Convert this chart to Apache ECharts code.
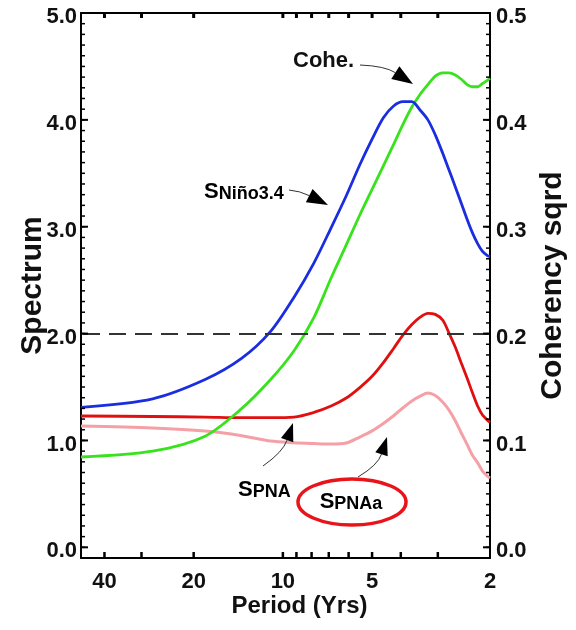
<!DOCTYPE html>
<html><head><meta charset="utf-8">
<script src="https://cdn.jsdelivr.net/npm/echarts@6.0.0/dist/echarts.min.js"></script>
<style>html,body{margin:0;padding:0;background:#fff}#main{width:576px;height:630px}</style>
</head><body><div id="main"></div>
<script>
// Period (years) sample points
const periods = [48, 27.5, 18.3, 13.75, 11, 9.17, 7.86, 6.875, 6.11, 5.5, 5, 4.58, 4.23, 3.93, 3.67, 3.44, 3.24, 3.06, 2.89, 2.75, 2.62, 2.5, 2.39, 2.29, 2.2, 2.12, 2.04, 2.0];
// Spectrum of Niño3.4 (left axis)
const sNino = [1.31, 1.39, 1.57, 1.77, 2.02, 2.34, 2.66, 2.99, 3.29, 3.58, 3.82, 4.02, 4.13, 4.17, 4.17, 4.09, 4.00, 3.86, 3.69, 3.53, 3.375, 3.22, 3.07, 2.94, 2.84, 2.77, 2.73, 2.72];
// Spectrum of PNA (left axis)
const sPNA = [1.229, 1.224, 1.219, 1.214, 1.214, 1.219, 1.262, 1.322, 1.397, 1.495, 1.600, 1.728, 1.861, 1.988, 2.085, 2.154, 2.190, 2.180, 2.127, 2.005, 1.874, 1.724, 1.584, 1.443, 1.320, 1.238, 1.190, 1.170];
// Spectrum of PNAa (left axis)
const sPNAa = [1.135, 1.116, 1.088, 1.045, 0.995, 0.979, 0.971, 0.966, 0.976, 1.032, 1.09, 1.159, 1.231, 1.306, 1.37, 1.415, 1.443, 1.42, 1.36, 1.284, 1.185, 1.07, 0.963, 0.86, 0.79, 0.714, 0.665, 0.648];
// Coherency squared (right axis)
const cohe = [0.0845, 0.090, 0.104, 0.130, 0.157, 0.184, 0.215, 0.252, 0.283, 0.311, 0.335, 0.357, 0.377, 0.396, 0.412, 0.424, 0.433, 0.441, 0.444, 0.444, 0.442, 0.438, 0.433, 0.431, 0.431, 0.434, 0.437, 0.439];
// significance level (dashed)
const sigLevel = 2.0;
// ticks
const xTickLabels = [40, 20, 10, 5, 2];
const xTickMarks = [40, 30, 20, 10, 9, 8, 7, 6, 5, 4, 3];
const yLeftLabels = [0, 1, 2, 3, 4, 5];
const yRightLabels = [0, 0.1, 0.2, 0.3, 0.4, 0.5];
const xRange = [2, 48];
const yLeftRange = [-0.1, 5];
const yRightRange = [-0.01, 0.5];

const FONT = '"Liberation Sans", Arial, sans-serif';
const lg = v => Math.log10(v);
const yLeftMinor = []; for (let i = 0; i <= 50; i++) yLeftMinor.push(i / 10);
const yRightMinor = []; for (let i = 0; i <= 50; i++) yRightMinor.push(i / 100);

const chart = echarts.init(document.getElementById('main'), null, {renderer: 'canvas'});

const mkSeries = (name, vals, color, width, yIdx) => ({
  name, type: 'line', xAxisIndex: 0, yAxisIndex: yIdx,
  data: periods.map((p, i) => [lg(p), vals[i]]),
  showSymbol: false, smooth: 0.3,
  lineStyle: {color, width}, itemStyle: {color}, z: 3
});

// tick marks as small rect symbols placed through the axes' own scales
const tickSeries = (yIdx, pts, size, offset) => ({
  type: 'scatter', xAxisIndex: 0, yAxisIndex: yIdx, silent: true, clip: false, z: 6,
  symbol: 'rect', symbolSize: size, symbolOffset: offset,
  itemStyle: {color: '#000', opacity: 1}, emphasis: {disabled: true},
  data: pts
});

const xBase = {
  type: 'value', min: lg(xRange[0]), max: lg(xRange[1]), inverse: true,
  splitLine: {show: false},
  axisLine: {show: true, onZero: false, lineStyle: {color: '#000', width: 2}},
  axisTick: {show: false}
};

const yBase = (r) => ({
  type: 'value', min: r[0], max: r[1], splitLine: {show: false}
});

function arrow(x0, y0, cx, cy, tx, ty, len, hw) {
  const dx = tx - cx, dy = ty - cy, d = Math.hypot(dx, dy);
  const ux = dx / d, uy = dy / d;
  const bx = tx - ux * len, by = ty - uy * len;
  return [
    {type: 'bezierCurve', shape: {x1: x0, y1: y0, x2: bx, y2: by, cpx1: cx, cpy1: cy},
     style: {stroke: '#333', lineWidth: 1, fill: null}, z: 10},
    {type: 'polygon', shape: {points: [[tx, ty], [bx - uy * hw, by + ux * hw], [bx + uy * hw, by - ux * hw]]},
     style: {fill: '#000'}, z: 10}
  ];
}

const richS = {
  s: {fontSize: 22, fontWeight: 'bold', fontFamily: FONT, color: '#111', lineHeight: 22, verticalAlign: 'bottom'},
  t: {fontSize: 18, fontWeight: 'bold', fontFamily: FONT, color: '#111', lineHeight: 18, verticalAlign: 'bottom'}
};

const xLeft = lg(xRange[1]), xRight = lg(xRange[0]);

const yLabelBase = {fontFamily: FONT, fontWeight: 'bold', fontSize: 22, color: '#111',
  verticalAlign: 'top', lineHeight: 8, formatter: v => v.toFixed(1)};

const option = {
  animation: false,
  backgroundColor: '#fff',
  grid: {left: 81, right: 84, top: 13, bottom: 72, containLabel: false},
  xAxis: [
    Object.assign({}, xBase, {
      position: 'bottom',
      name: 'Period (Yrs)', nameLocation: 'middle', nameGap: 36, nameMoveOverlap: false,
      nameTextStyle: {fontFamily: FONT, fontWeight: 'bold', fontSize: 24, color: '#111', padding: [0, 0, 0, 28]},
      axisLabel: {show: true, customValues: xTickLabels.map(lg), margin: 13,
        formatter: v => String(Math.round(Math.pow(10, v))),
        fontFamily: FONT, fontWeight: 'bold', fontSize: 22, color: '#111'}
    }),
    Object.assign({}, xBase, {position: 'top', axisLabel: {show: false}})
  ],
  yAxis: [
    Object.assign(yBase(yLeftRange), {
      position: 'left',
      name: 'Spectrum', nameLocation: 'middle', nameGap: 33, nameMoveOverlap: false,
      nameTextStyle: {fontFamily: FONT, fontWeight: 'bold', fontSize: 30, color: '#111'},
      axisLine: {show: true, onZero: false, lineStyle: {color: '#000', width: 2}},
      axisTick: {show: false},
      axisLabel: Object.assign({show: true, customValues: yLeftLabels, margin: 4}, yLabelBase)
    }),
    Object.assign(yBase(yRightRange), {
      position: 'right',
      name: 'Coherency sqrd', nameLocation: 'middle', nameGap: 48, nameMoveOverlap: false,
      nameTextStyle: {fontFamily: FONT, fontWeight: 'bold', fontSize: 30, color: '#111'},
      axisLine: {show: true, onZero: false, lineStyle: {color: '#000', width: 2}},
      axisTick: {show: false},
      axisLabel: Object.assign({show: true, customValues: yRightLabels, margin: 6}, yLabelBase)
    })
  ],
  series: [
    Object.assign(mkSeries('SPNAa', sPNAa, '#f4a0a6', 3, 0), {
      markLine: {silent: true, symbol: 'none', label: {show: false},
        lineStyle: {color: '#333', width: 2, type: [17, 9]},
        data: [{yAxis: sigLevel}]}
    }),
    mkSeries('SPNA', sPNA, '#e01010', 2.8, 0),
    mkSeries('Cohe.', cohe, '#38e21c', 2.8, 1),
    mkSeries('SNino3.4', sNino, '#1a2ee0', 2.8, 0),
    tickSeries(0, yLeftMinor.map(v => [xLeft, v]), [4, 1.5], [2, 0]),
    tickSeries(0, yLeftLabels.map(v => [xLeft, v]), [7, 2], [3.5, 0]),
    tickSeries(1, yRightMinor.map(v => [xRight, v]), [4, 1.5], [-2, 0]),
    tickSeries(1, yRightLabels.map(v => [xRight, v]), [7, 2], [-3.5, 0]),
    tickSeries(0, xTickMarks.map(t => [lg(t), yLeftRange[0]]), [2.5, 6], [0, -3]),
    tickSeries(0, xTickMarks.map(t => [lg(t), yLeftRange[1]]), [3, 5], [0, 2.5])
  ],
  graphic: [
    {type: 'text', style: {text: 'Cohe.', x: 293, y: 61, verticalAlign: 'middle', font: 'bold 22px ' + FONT, fill: '#111'}, z: 10},
    {type: 'text', style: {text: '{s|S}{t|Niño3.4}', rich: richS, x: 204, y: 192, verticalAlign: 'middle'}, z: 10},
    {type: 'text', style: {text: '{s|S}{t|PNA}', rich: richS, x: 238, y: 490, verticalAlign: 'middle'}, z: 10},
    {type: 'text', style: {text: '{s|S}{t|PNAa}', rich: richS, x: 351, y: 502, align: 'center', verticalAlign: 'middle'}, z: 10},
    {type: 'ellipse', shape: {cx: 352, cy: 502, rx: 54, ry: 23}, style: {stroke: '#e8141a', lineWidth: 3.5, fill: null}, z: 10}
  ]
    .concat(arrow(360, 65, 385, 66, 413, 84, 21, 7.5))
    .concat(arrow(289, 190, 300, 191, 328, 205, 21, 7.5))
    .concat(arrow(263, 466, 283, 452, 293, 423, 18, 6.5))
    .concat(arrow(358, 477, 378, 465, 387, 437, 18, 6.5))
};
chart.setOption(option);
</script>
</body></html>
